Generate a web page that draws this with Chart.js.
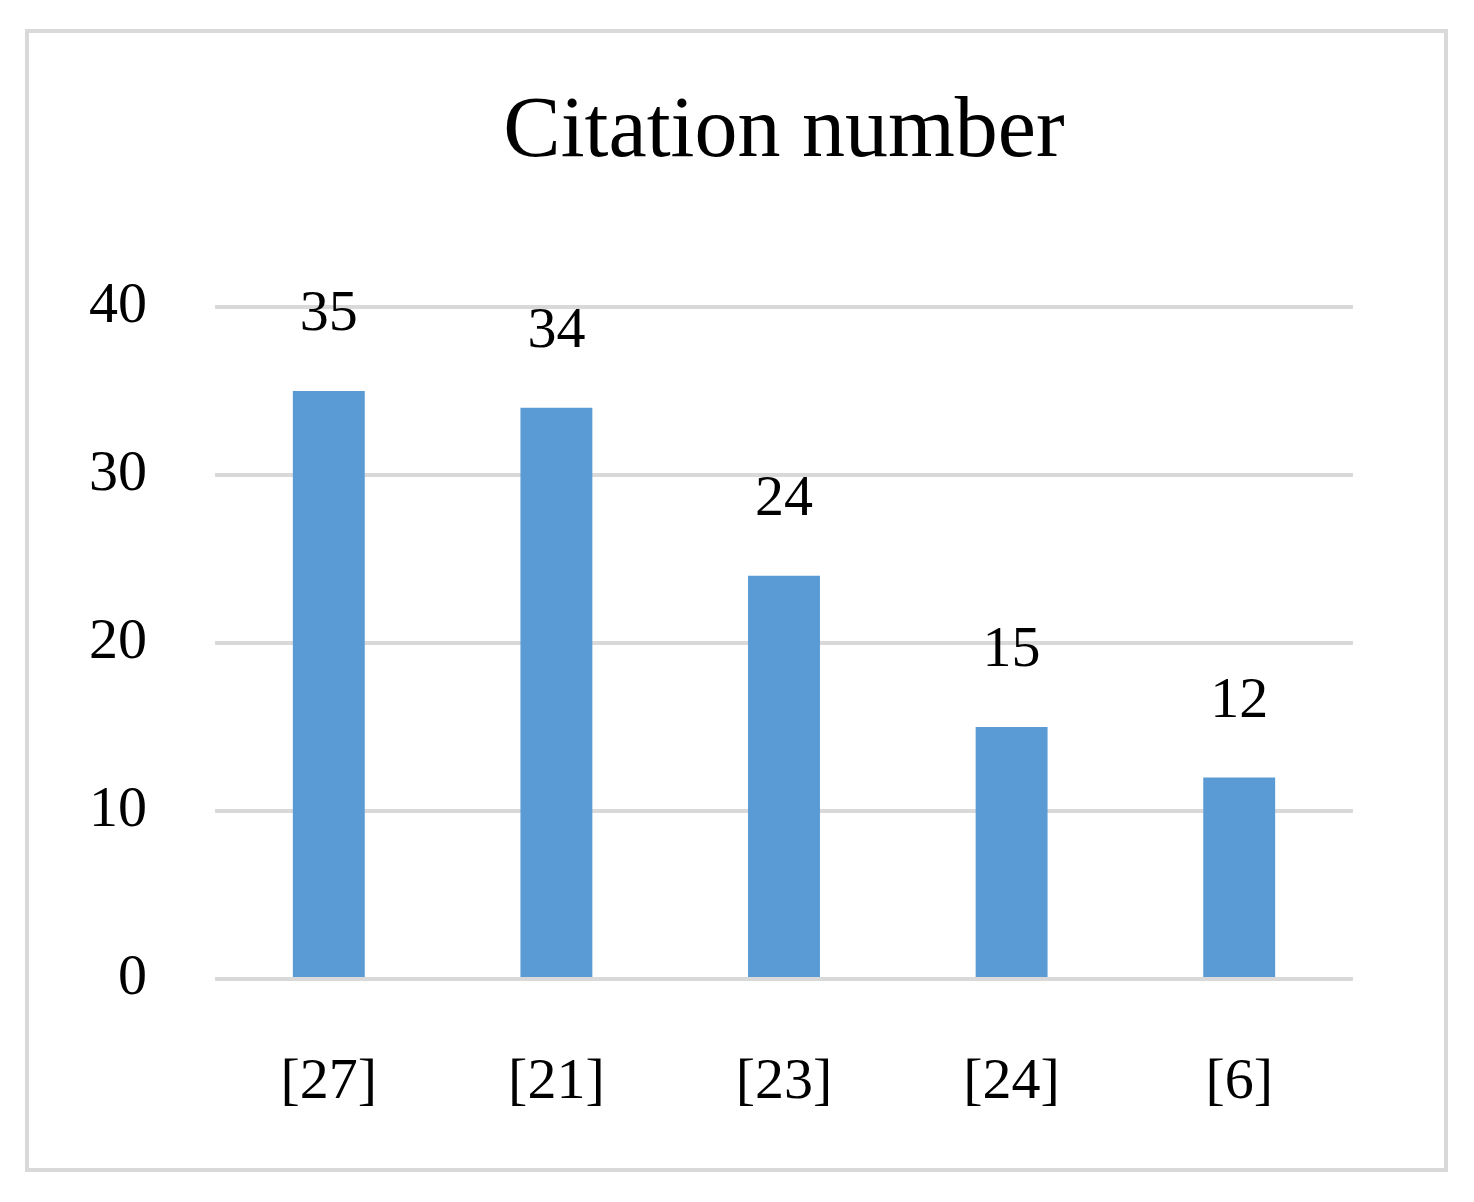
<!DOCTYPE html>
<html>
<head>
<meta charset="utf-8">
<script src="https://cdn.jsdelivr.net/npm/chart.js@4/dist/chart.umd.min.js"></script>
<style>
  html, body { margin: 0; padding: 0; background: #fff; }
  #wrap { width: 1474px; height: 1202px; position: relative; }
</style>
</head>
<body>
<div id="wrap"><canvas id="citeChart" width="1474" height="1202"></canvas></div>
<script>
// Chart data
const categories = ['[27]', '[21]', '[23]', '[24]', '[6]'];
const citations = [35, 34, 24, 15, 12];
const yTicks = [0, 10, 20, 30, 40];
const chartTitle = 'Citation number';

const serif = "'Liberation Serif', 'DejaVu Serif', serif";

// Outer frame and title, centred over the plot area
const framePlugin = {
    id: 'frame',
    beforeDraw(chart) {
        const ctx = chart.ctx;
        const area = chart.chartArea;
        ctx.save();
        ctx.fillStyle = '#ffffff';
        ctx.fillRect(0, 0, chart.width, chart.height);
        ctx.strokeStyle = '#d9d9d9';
        ctx.lineWidth = 4;
        ctx.strokeRect(27, 31, 1419, 1139);
        ctx.font = '86px ' + serif;
        ctx.fillStyle = '#000';
        ctx.textAlign = 'center';
        ctx.textBaseline = 'middle';
        ctx.fillText(chartTitle, (area.left + area.right) / 2, 133);
        ctx.restore();
    }
};

// Value labels above each bar
const valueLabels = {
    id: 'valueLabels',
    afterDatasetsDraw(chart) {
        const ctx = chart.ctx;
        const meta = chart.getDatasetMeta(0);
        ctx.save();
        ctx.font = '58px ' + serif;
        ctx.fillStyle = '#000';
        ctx.textAlign = 'center';
        ctx.textBaseline = 'middle';
        meta.data.forEach((bar, i) => {
            ctx.fillText(citations[i], bar.x, bar.y - 76);
        });
        ctx.restore();
    }
};

const ctx = document.getElementById('citeChart').getContext('2d');
new Chart(ctx, {
    type: 'bar',
    data: {
        labels: categories,
        datasets: [{
            data: citations,
            backgroundColor: '#5b9bd5',
            barPercentage: 0.316,
            categoryPercentage: 1
        }]
    },
    options: {
        responsive: false,
        animation: false,
        layout: { padding: { left: 0, right: 121, top: 307, bottom: 0 } },
        plugins: {
            legend: { display: false },
            tooltip: { enabled: false },
            title: { display: false }
        },
        scales: {
            x: {
                grid: { display: false, drawTicks: false },
                border: { display: false },
                ticks: {
                    color: '#000',
                    font: { family: serif, size: 58 },
                    padding: 69
                },
                afterFit(scale) { scale.height = 223; }
            },
            y: {
                min: 0,
                max: 40,
                afterBuildTicks(scale) {
                    scale.ticks = yTicks.map(v => ({ value: v }));
                },
                grid: { color: '#d9d9d9', lineWidth: 4, drawTicks: false },
                border: { display: false },
                ticks: {
                    color: '#000',
                    font: { family: serif, size: 58 },
                    padding: 68
                },
                afterFit(scale) { scale.width = 215; }
            }
        }
    },
    plugins: [framePlugin, valueLabels]
});
</script>
</body>
</html>
